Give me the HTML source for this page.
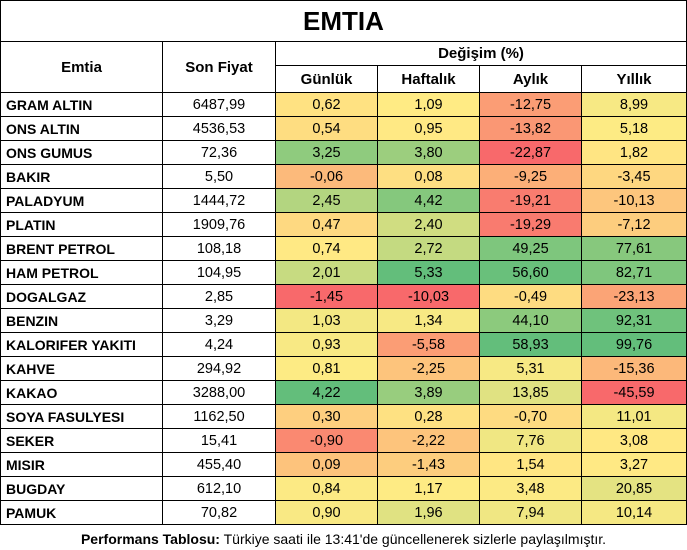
<!DOCTYPE html>
<html><head><meta charset="utf-8">
<style>
html,body{margin:0;padding:0;background:#fff;}
body{width:687px;height:550px;overflow:hidden;font-family:"Liberation Sans",sans-serif;color:#000;}
table{border-collapse:collapse;position:absolute;left:0;top:0;table-layout:fixed;}
td{border:1px solid #000;padding:0;text-align:center;font-size:14.5px;height:23px;white-space:nowrap;overflow:hidden;}
td.n{text-align:left;font-weight:bold;font-size:14px;padding-left:5px;}
.title td{height:40px;font-size:26px;font-weight:bold;}
.h td{font-weight:bold;font-size:15px;}
.foot{position:absolute;left:0;top:528px;width:687px;height:22px;text-align:center;font-size:14px;line-height:22px;}
</style></head><body>
<table id="t">
<colgroup><col style="width:162px"><col style="width:113px"><col style="width:102px"><col style="width:102px"><col style="width:102px"><col style="width:105px"></colgroup>
<tr class="title"><td colspan="6">EMTIA</td></tr>
<tr class="h"><td rowspan="2" style="height:50px">Emtia</td><td rowspan="2">Son Fiyat</td><td colspan="4" style="height:23px">Değişim (%)</td></tr>
<tr class="h"><td style="height:25px">Günlük</td><td>Haftalık</td><td>Aylık</td><td>Yıllık</td></tr>
<tr><td class="n">GRAM ALTIN</td><td>6487,99</td><td>0,62</td><td>1,09</td><td>-12,75</td><td>8,99</td></tr>
<tr><td class="n">ONS ALTIN</td><td>4536,53</td><td>0,54</td><td>0,95</td><td>-13,82</td><td>5,18</td></tr>
<tr><td class="n">ONS GUMUS</td><td>72,36</td><td>3,25</td><td>3,80</td><td>-22,87</td><td>1,82</td></tr>
<tr><td class="n">BAKIR</td><td>5,50</td><td>-0,06</td><td>0,08</td><td>-9,25</td><td>-3,45</td></tr>
<tr><td class="n">PALADYUM</td><td>1444,72</td><td>2,45</td><td>4,42</td><td>-19,21</td><td>-10,13</td></tr>
<tr><td class="n">PLATIN</td><td>1909,76</td><td>0,47</td><td>2,40</td><td>-19,29</td><td>-7,12</td></tr>
<tr><td class="n">BRENT PETROL</td><td>108,18</td><td>0,74</td><td>2,72</td><td>49,25</td><td>77,61</td></tr>
<tr><td class="n">HAM PETROL</td><td>104,95</td><td>2,01</td><td>5,33</td><td>56,60</td><td>82,71</td></tr>
<tr><td class="n">DOGALGAZ</td><td>2,85</td><td>-1,45</td><td>-10,03</td><td>-0,49</td><td>-23,13</td></tr>
<tr><td class="n">BENZIN</td><td>3,29</td><td>1,03</td><td>1,34</td><td>44,10</td><td>92,31</td></tr>
<tr><td class="n">KALORIFER YAKITI</td><td>4,24</td><td>0,93</td><td>-5,58</td><td>58,93</td><td>99,76</td></tr>
<tr><td class="n">KAHVE</td><td>294,92</td><td>0,81</td><td>-2,25</td><td>5,31</td><td>-15,36</td></tr>
<tr><td class="n">KAKAO</td><td>3288,00</td><td>4,22</td><td>3,89</td><td>13,85</td><td>-45,59</td></tr>
<tr><td class="n">SOYA FASULYESI</td><td>1162,50</td><td>0,30</td><td>0,28</td><td>-0,70</td><td>11,01</td></tr>
<tr><td class="n">SEKER</td><td>15,41</td><td>-0,90</td><td>-2,22</td><td>7,76</td><td>3,08</td></tr>
<tr><td class="n">MISIR</td><td>455,40</td><td>0,09</td><td>-1,43</td><td>1,54</td><td>3,27</td></tr>
<tr><td class="n">BUGDAY</td><td>612,10</td><td>0,84</td><td>1,17</td><td>3,48</td><td>20,85</td></tr>
<tr><td class="n">PAMUK</td><td>70,82</td><td>0,90</td><td>1,96</td><td>7,94</td><td>10,14</td></tr>
</table>
<div class="foot"><b>Performans Tablosu:</b> Türkiye saati ile 13:41'de güncellenerek sizlerle paylaşılmıştır.</div>
<script>
(function(){
var rows=[].slice.call(document.querySelectorAll('#t tr')).slice(3);
var R=[248,105,107],Y=[255,235,132],G=[99,190,123];
function mix(a,b,t){return 'rgb('+a.map(function(v,i){return Math.round(v+(b[i]-v)*t)}).join(',')+')';}
for(var c=2;c<6;c++){
 var cells=rows.map(function(r){return r.children[c];});
 var v=cells.map(function(e){return parseFloat(e.textContent.replace(',','.'));});
 var s=v.slice().sort(function(a,b){return a-b});
 var mn=s[0],mx=s[s.length-1],md=(s[8]+s[9])/2;
 cells.forEach(function(e,i){var x=v[i];
  e.style.background = x<=md ? mix(R,Y,(x-mn)/(md-mn)) : mix(Y,G,(x-md)/(mx-md));});
}
})();
</script>
</body></html>
